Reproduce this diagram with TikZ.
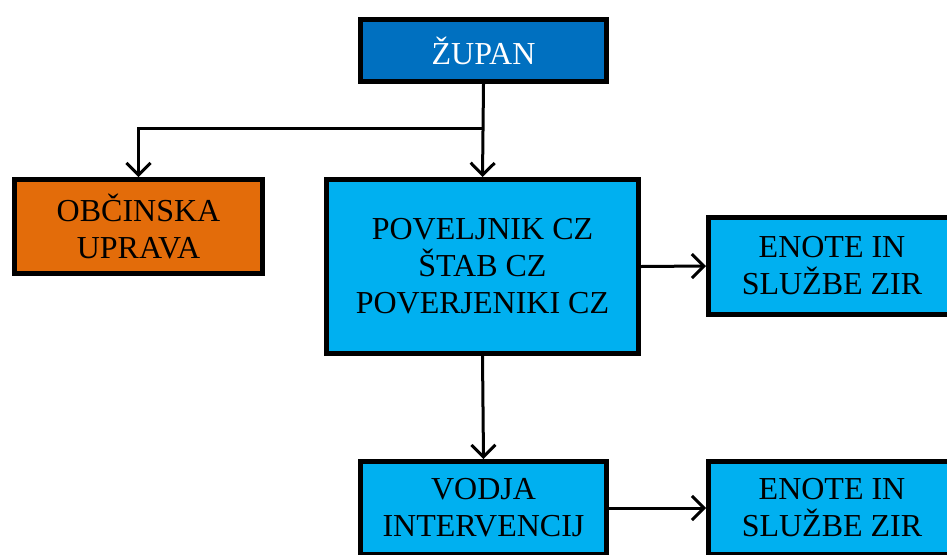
\documentclass[tikz,border=0pt]{standalone}
\usepackage{fontspec}
\setmainfont{Liberation Serif}
\usetikzlibrary{arrows.meta,shadows}
\definecolor{zupanblue}{HTML}{0070C0}
\definecolor{lightblue}{HTML}{00B0F0}
\definecolor{orangebox}{HTML}{E36C0A}
\begin{document}
\begin{tikzpicture}[x=1pt,y=-1pt,
  box/.style={draw=black, line width=5pt, rectangle, align=center, inner sep=0pt,
    font=\fontsize{32}{37}\selectfont,
    drop shadow={shadow xshift=2pt, shadow yshift=-2pt, fill=gray, opacity=0.5}},
  conn/.style={line width=3pt, -{Straight Barb[length=12pt,width=24pt,line width=3pt]}}]
\clip (0,0) rectangle (947,554);
\node[box, fill=zupanblue, text=white, minimum width=246pt, minimum height=62pt] (zupan) at (483.5,50.5) {ŽUPAN};
\node[box, fill=orangebox, minimum width=248pt, minimum height=94pt] (obc) at (138.5,226.5) {OBČINSKA\\UPRAVA};
\node[box, fill=lightblue, minimum width=312pt, minimum height=174pt] (pov) at (482.5,266.5) {POVELJNIK CZ\\ŠTAB CZ\\POVERJENIKI CZ};
\node[box, fill=lightblue, minimum width=247pt, minimum height=97pt] (en1) at (832,266) {ENOTE IN\\SLUŽBE ZIR};
\node[box, fill=lightblue, minimum width=246pt, minimum height=93pt] (vod) at (483.5,508) {VODJA\\INTERVENCIJ};
\node[box, fill=lightblue, minimum width=247pt, minimum height=93pt] (en2) at (832,508) {ENOTE IN\\SLUŽBE ZIR};
\coordinate (branch) at (483.5,128);
\draw[conn] (zupan.south) -- (pov.north);
\draw[conn] (branch) -| (obc.north);
\draw[conn] (pov.east) -- (en1.west);
\draw[conn] (pov.south) -- (vod.north);
\draw[conn] (vod.east) -- (en2.west);
\end{tikzpicture}
\end{document}
